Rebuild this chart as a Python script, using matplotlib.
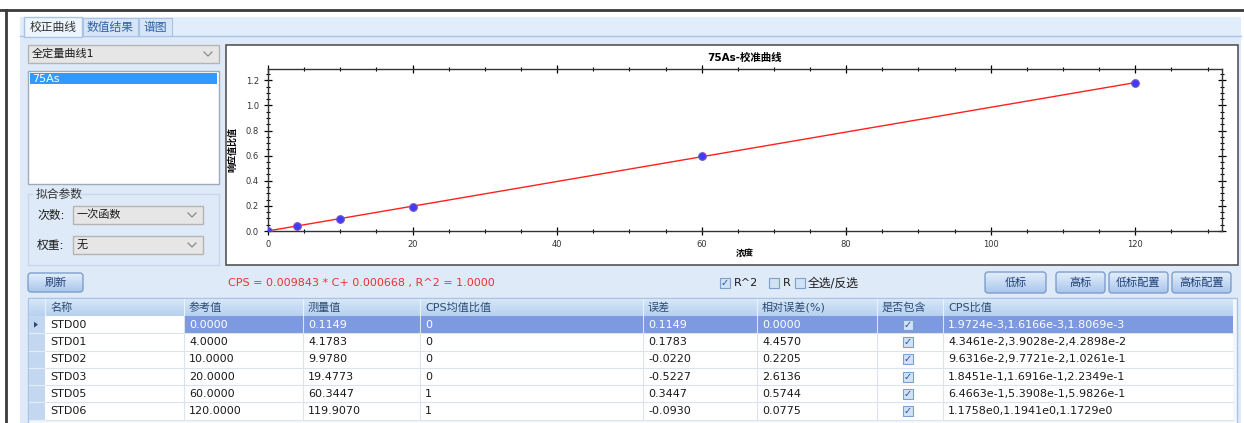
import numpy as np
import matplotlib
matplotlib.use("Agg")
import matplotlib.pyplot as plt
from matplotlib.patches import Rectangle, FancyBboxPatch, Polygon
from matplotlib.ticker import MultipleLocator

# 西文用 DejaVu Sans，中文回退到 Noto Sans CJK SC
plt.rcParams['font.family'] = ['DejaVu Sans', 'Noto Sans CJK SC']

# 标准样品数据
names = ['STD00', 'STD01', 'STD02', 'STD03', 'STD05', 'STD06']
ref_vals = [0.0, 4.0, 10.0, 20.0, 60.0, 120.0]
measured = [0.1149, 4.1783, 9.9780, 19.4773, 60.3447, 119.9070]
cps_mean_flag = [0, 0, 0, 0, 1, 1]
errors = [0.1149, 0.1783, -0.0220, -0.5227, 0.3447, -0.0930]
rel_errors = [0.0000, 4.4570, 0.2205, 2.6136, 0.5744, 0.0775]
cps_ratios = [
    [1.9724e-3, 1.6166e-3, 1.8069e-3],
    [4.3461e-2, 3.9028e-2, 4.2898e-2],
    [9.6316e-2, 9.7721e-2, 1.0261e-1],
    [1.8451e-1, 1.6916e-1, 2.2349e-1],
    [6.4663e-1, 5.3908e-1, 5.9826e-1],
    [1.1758e0, 1.1941e0, 1.1729e0],
]
included = [True, True, True, True, True, True]

# 拟合结果
slope = 0.009843
intercept = 0.000668
r2 = 1.0000

columns = ['名称', '参考值', '测量值', 'CPS均值比值', '误差', '相对误差(%)', '是否包含', 'CPS比值']
col_edges = [45, 184, 303, 420, 643, 757, 877, 943, 1233]

W, H = 1244, 423
fig = plt.figure(figsize=(W / 100, H / 100), dpi=100)
fig.patch.set_facecolor('white')

# 界面层：像素坐标
ui = fig.add_axes([0, 0, 1, 1], zorder=0)
ui.set_axis_off()

PANEL = '#dfeaf8'
BORDER = '#a9c3e4'


def rect(x0, y0, x1, y1, fc, ec='none', lw=1.0, z=1):
    p = Rectangle((x0, y0), x1 - x0, y1 - y0, facecolor=fc, edgecolor=ec, linewidth=lw, zorder=z)
    ui.add_patch(p)
    return p


def gradient(x0, y0, x1, y1, c_top, c_bot, z=1, clip=None):
    c0 = np.array(matplotlib.colors.to_rgb(c_top))
    c1 = np.array(matplotlib.colors.to_rgb(c_bot))
    t = np.linspace(0, 1, 32)[:, None]
    img = (c0 * (1 - t) + c1 * t)[:, None, :]
    im = ui.imshow(img, extent=(x0, x1, y1, y0), origin='upper', aspect='auto',
                   interpolation='bilinear', zorder=z)
    if clip is not None:
        im.set_clip_path(clip)
    return im


def text(x, y, s, size=8, color='#1a1a1a', ha='left', weight='normal', z=5, **kw):
    ui.text(x, y, s, fontsize=size, color=color, ha=ha, va='center', weight=weight, zorder=z, **kw)


def chevron(x, y):
    ui.plot([x - 4, x, x + 4], [y - 2, y + 2, y - 2], color='#8a8a8a', lw=0.9, zorder=5)


def combo(x0, y0, x1, y1, label):
    rect(x0, y0, x1, y1, '#e6e6e6', '#b4b4b4', 1.0, z=2)
    text(x0 + 4, (y0 + y1) / 2, label, size=8)
    chevron(x1 - 11, (y0 + y1) / 2)


def button(x0, y0, x1, y1, label):
    p = FancyBboxPatch((x0, y0), x1 - x0, y1 - y0, boxstyle='round,pad=0,rounding_size=3',
                       facecolor='none', edgecolor='#7d9fcb', linewidth=1.0, zorder=4)
    ui.add_patch(p)
    gradient(x0, y0, x1, y1, '#e4eefb', '#a9c6eb', z=3, clip=p)
    text((x0 + x1) / 2, (y0 + y1) / 2, label, size=8, color='#1f3f78', ha='center')


def checkbox(x, y, checked, size=10):
    rect(x, y, x + size, y + size, '#d2e2f6', '#7d9fcb', 0.8, z=4)
    if checked:
        ui.text(x + size / 2, y + size / 2, '✓', fontsize=7, color='#1f4fa0', ha='center', va='center',
                family='DejaVu Sans', weight='bold', zorder=6)


# 外框
ui.plot([0, W], [10, 10], color='#3a3a3a', lw=2, zorder=6)
ui.plot([6, 6], [10, H], color='#3a3a3a', lw=2, zorder=6)

# 选项卡
rect(20, 17, 1241, 37, '#e1edfb', z=1)
rect(20, 36, 1241, H, PANEL, z=1)
ui.plot([20, 1241], [36.5, 36.5], color=BORDER, lw=1, zorder=2)
rect(24, 17, 82, 37, '#eef5fd', BORDER, 1.0, z=3)
rect(83, 18, 138, 36, '#d6e5f7', BORDER, 0.8, z=2)
rect(139, 18, 172, 36, '#d6e5f7', BORDER, 0.8, z=2)
text(53, 27, '校正曲线', size=8.5, color='#333333', ha='center')
text(110.5, 27, '数值结果', size=8.5, color='#2f62a8', ha='center')
text(155.5, 27, '谱图', size=8.5, color='#2f62a8', ha='center')

# 左侧：曲线选择
combo(28, 45, 219, 63, '全定量曲线1')
rect(28, 71, 219, 184, 'white', '#a0aab8', 1.0, z=2)
rect(30, 73, 217, 84, '#3399ff', z=3)
text(32, 78.5, '75As', size=8, color='white')

# 拟合参数
rect(28, 194, 219, 265, 'none', '#c6d7ec', 1.0, z=2)
rect(33, 188, 80, 200, PANEL, z=3)
text(36, 194, '拟合参数', size=8.5, color='#333333', z=4)
text(37, 215, '次数:', size=8.5)
combo(73, 206, 203, 224, '一次函数')
text(37, 245, '权重:', size=8.5)
combo(73, 236, 203, 254, '无')

# 图表区域
rect(226, 45, 1238, 265, 'white', '#555555', 1.2, z=2)

# 拟合公式与控件
button(28, 273, 83, 292, '刷新')
text(228, 283, f'CPS = {slope:.6f} * C+ {intercept:.6f} , R^2 = {r2:.4f}', size=8, color='#e8322f')
checkbox(720, 278, True)
text(734, 283, 'R^2', size=8)
checkbox(769, 278, False)
text(783, 283, 'R', size=8)
checkbox(795, 278, False)
text(808, 283, '全选/反选', size=8.5)
button(985, 272, 1046, 293, '低标')
button(1056, 272, 1105, 293, '高标')
button(1109, 272, 1168, 293, '低标配置')
button(1172, 272, 1231, 293, '高标配置')

# 数据表
top, head_h, row_h = 299, 17, 17.3
rect(28, 298, 1237, H + 2, '#f4f8fd', BORDER, 1.0, z=2)
gradient(29, top, 1233, top + head_h, '#d6e7f8', '#b6d1ef', z=3)
last = top + head_h + len(names) * row_h
rect(29, top + head_h, 45, last, '#c3d8f0', z=3)
for i, name in enumerate(columns):
    text(col_edges[i] + 5, top + head_h / 2, name, size=8, color='#2b4a75')
    ui.plot([col_edges[i], col_edges[i]], [top, top + head_h], color='#eaf2fb', lw=0.8, zorder=4)


def fmt_ratio(v):
    m, e = f'{v:.4e}'.split('e')
    return f'{m}e{int(e)}'


for r in range(len(names)):
    y0 = top + head_h + r * row_h
    y1 = y0 + row_h
    yc = (y0 + y1) / 2
    sel = r == 0
    rect(45, y0, col_edges[-1], y1, 'white', z=3)
    if sel:
        rect(col_edges[1], y0, col_edges[-1], y1, '#7d99df', z=3)
        ui.add_patch(Polygon([[34, yc - 3], [38, yc], [34, yc + 3]], closed=True,
                             facecolor='#2b4a75', zorder=5))
    ui.plot([29, col_edges[-1]], [y1, y1], color='#dbe3ec', lw=0.8, zorder=4)
    ui.plot([29, 45], [y1, y1], color='#e3edf8', lw=0.8, zorder=4)
    for e in col_edges[1:-1]:
        ui.plot([e, e], [y0, y1], color='#dbe3ec', lw=0.8, zorder=4)
    tc = 'white' if sel else '#1a1a1a'
    cells = [f'{ref_vals[r]:.4f}', f'{measured[r]:.4f}', f'{cps_mean_flag[r]}',
             f'{errors[r]:.4f}', f'{rel_errors[r]:.4f}', None,
             ','.join(fmt_ratio(v) for v in cps_ratios[r])]
    text(col_edges[0] + 5, yc, names[r], size=8)
    for c, s in enumerate(cells):
        if s is not None:
            text(col_edges[c + 1] + 5, yc, s, size=8, color=tc)
    checkbox(903, yc - 5, included[r], size=10)

# 校准曲线图
ax = fig.add_axes([268 / W, 1 - 231 / H, (1222 - 268) / W, (231 - 69) / H], zorder=2)
mean_ratio = [np.mean(v) for v in cps_ratios]
xs = np.array([ref_vals[0], ref_vals[-1]])
ax.plot(xs, slope * xs + intercept, color='#ff2020', lw=1.0, zorder=2)
ax.plot(ref_vals, mean_ratio, 'o', ms=5.5, mfc='#3f3cf5', mec='#7a52c8', mew=0.8, zorder=3)
ax.set_xlim(0, 132)
ax.set_ylim(0, 1.29)
ax.xaxis.set_major_locator(MultipleLocator(20))
ax.xaxis.set_minor_locator(MultipleLocator(5))
ax.yaxis.set_major_locator(MultipleLocator(0.2))
ax.yaxis.set_minor_locator(MultipleLocator(0.05))
ax.yaxis.set_major_formatter(matplotlib.ticker.FormatStrFormatter('%.1f'))
ax.tick_params(which='major', direction='inout', length=6, width=0.9, labelsize=6,
               labelcolor='#333333', top=True, right=True)
ax.tick_params(which='minor', direction='inout', length=3.5, width=0.8, top=True, right=True)
for s in ax.spines.values():
    s.set_color('#333333')
    s.set_linewidth(1.0)
ax.set_title('75As-校准曲线', fontsize=7.5, weight='bold', pad=6)
ax.set_xlabel('浓度', fontsize=6.5, weight='bold', labelpad=0)
ax.set_ylabel('响应值比值', fontsize=6.5, weight='bold', labelpad=6)

ui.set_xlim(0, W)
ui.set_ylim(H, 0)

fig.savefig('out.png', dpi=100)
